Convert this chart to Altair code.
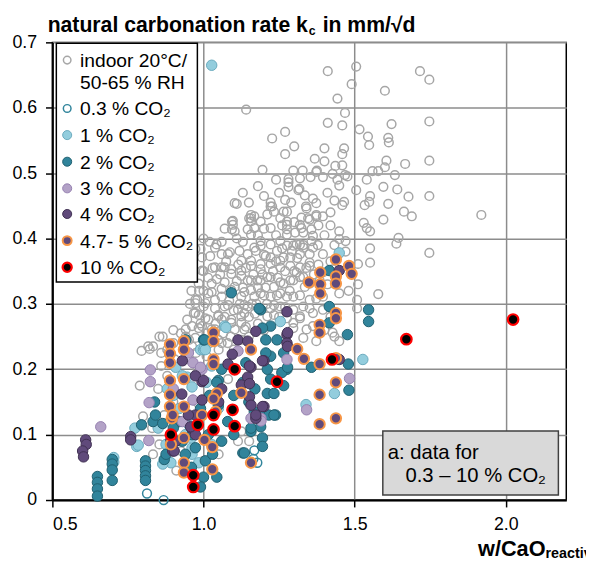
import altair as alt
import pandas as pd

# w/CaO_reactive (x) and carbonation rate k_c in mm/sqrt(d) (y)
indoor = [
    (1.411, 0.656), (1.505, 0.663), (1.490, 0.636), (1.443, 0.614), (1.600, 0.626), (1.716, 0.656),
    (1.747, 0.643), (1.141, 0.597), (1.468, 0.592), (1.411, 0.577), (1.459, 0.573), (1.516, 0.567),
    (1.544, 0.556), (1.548, 0.543), (1.622, 0.575), (1.611, 0.554), (1.613, 0.547), (1.747, 0.579),
    (1.747, 0.519), (1.747, 0.465), (1.919, 0.436), (1.747, 0.378), (1.667, 0.514), (1.605, 0.519),
    (1.600, 0.509), (1.633, 0.497), (1.595, 0.479), (1.641, 0.475), (1.678, 0.464), (1.611, 0.453),
    (1.663, 0.441), (1.689, 0.434), (1.595, 0.429), (1.551, 0.465), (1.548, 0.456), (1.533, 0.451),
    (1.530, 0.424), (1.540, 0.416), (1.551, 0.411), (1.645, 0.401), (1.638, 0.392), (1.551, 0.385),
    (1.505, 0.474), (1.540, 0.490), (1.559, 0.503), (1.578, 0.503), (1.465, 0.456), (1.433, 0.458),
    (1.459, 0.529), (1.465, 0.538), (1.400, 0.538), (1.368, 0.522), (1.400, 0.518), (1.436, 0.511),
    (1.459, 0.512), (1.373, 0.502), (1.427, 0.499), (1.468, 0.497), (1.443, 0.490), (1.449, 0.481),
    (1.395, 0.494), (1.328, 0.504), (1.300, 0.541), (1.270, 0.563), (1.270, 0.529), (1.297, 0.504),
    (1.281, 0.486), (1.314, 0.474), (1.335, 0.466), (1.362, 0.461), (1.373, 0.454), (1.339, 0.449),
    (1.395, 0.434), (1.373, 0.436), (1.324, 0.432), (1.346, 0.431), (1.276, 0.441), (1.276, 0.426),
    (1.276, 0.414), (1.303, 0.409), (1.330, 0.409), (1.362, 0.404), (1.319, 0.391), (1.378, 0.390),
    (1.449, 0.411), (1.449, 0.399), (1.470, 0.396), (1.433, 0.390), (1.292, 0.381), (1.351, 0.376),
    (1.227, 0.553), (1.195, 0.505), (1.281, 0.491), (1.319, 0.492), (1.354, 0.494), (1.375, 0.504),
    (1.476, 0.495), (1.281, 0.479), (1.317, 0.476), (1.110, 0.453), (1.222, 0.455), (1.227, 0.449),
    (1.270, 0.459), (1.168, 0.434), (1.211, 0.437), (1.233, 0.441), (1.151, 0.431), (1.097, 0.427),
    (0.973, 0.384), (0.995, 0.371), (1.038, 0.386), (1.081, 0.376), (1.094, 0.414), (1.094, 0.426),
    (1.103, 0.454), (1.157, 0.436), (1.254, 0.431), (1.157, 0.406), (1.189, 0.389), (1.097, 0.421),
    (1.103, 0.411), (1.157, 0.426), (1.168, 0.416), (1.222, 0.416), (1.276, 0.421), (1.319, 0.421),
    (1.351, 0.429), (0.990, 0.384), (1.087, 0.379), (1.146, 0.376), (1.168, 0.386), (1.189, 0.396),
    (1.222, 0.391), (1.254, 0.396), (1.276, 0.389), (1.308, 0.391), (1.330, 0.386), (1.357, 0.396),
    (1.060, 0.356), (1.092, 0.353), (1.125, 0.351), (1.157, 0.366), (1.189, 0.361), (1.222, 0.371),
    (1.254, 0.366), (1.287, 0.371), (1.319, 0.356), (1.351, 0.363), (1.044, 0.338), (1.070, 0.333),
    (1.103, 0.326), (1.146, 0.336), (1.178, 0.336), (1.211, 0.341), (1.233, 0.326), (1.265, 0.331),
    (1.297, 0.336), (1.330, 0.341), (1.027, 0.318), (1.060, 0.311), (1.125, 0.311), (1.157, 0.321),
    (1.189, 0.316), (1.222, 0.311), (1.254, 0.316), (1.297, 0.311), (0.979, 0.306), (1.000, 0.296),
    (1.038, 0.293), (1.081, 0.298), (1.135, 0.298), (1.233, 0.298), (0.984, 0.283), (1.016, 0.276),
    (1.049, 0.283), (1.092, 0.276), (1.135, 0.286), (1.211, 0.281), (0.962, 0.266), (0.995, 0.266),
    (1.038, 0.261), (1.103, 0.261), (1.125, 0.271), (0.941, 0.250), (0.973, 0.248), (0.865, 0.250),
    (0.817, 0.235), (0.962, 0.235), (1.222, 0.449), (1.265, 0.441), (1.341, 0.446), (1.373, 0.434),
    (1.459, 0.451), (1.157, 0.431), (1.189, 0.426), (1.146, 0.414), (1.276, 0.406), (1.324, 0.416),
    (1.357, 0.414), (1.173, 0.381), (1.119, 0.381), (1.206, 0.373), (1.243, 0.381), (1.265, 0.371),
    (1.297, 0.389), (1.319, 0.376), (1.362, 0.386), (1.395, 0.376), (1.125, 0.366), (1.157, 0.358),
    (1.189, 0.353), (1.222, 0.361), (1.254, 0.356), (1.287, 0.358), (1.308, 0.348), (1.351, 0.358),
    (1.395, 0.348), (1.427, 0.353), (1.043, 0.391), (1.060, 0.376), (1.022, 0.373), (0.995, 0.351),
    (1.038, 0.356), (1.070, 0.356), (1.092, 0.346), (1.125, 0.343), (1.157, 0.336), (1.189, 0.336),
    (1.222, 0.341), (1.254, 0.333), (1.287, 0.336), (1.319, 0.341), (1.351, 0.331), (1.384, 0.336),
    (0.984, 0.331), (1.027, 0.331), (1.060, 0.323), (1.092, 0.321), (1.135, 0.318), (1.168, 0.311),
    (1.200, 0.313), (1.243, 0.313), (1.276, 0.311), (1.319, 0.313), (1.351, 0.306), (1.395, 0.311),
    (0.973, 0.306), (1.006, 0.301), (1.038, 0.306), (1.070, 0.296), (1.114, 0.291), (1.146, 0.296),
    (1.222, 0.293), (1.254, 0.296), (1.297, 0.291), (1.330, 0.296), (0.973, 0.286), (1.006, 0.278),
    (1.049, 0.281), (1.125, 0.281), (1.233, 0.283), (1.276, 0.278), (1.319, 0.281), (1.362, 0.286),
    (0.984, 0.263), (1.027, 0.261), (1.092, 0.271), (1.135, 0.261), (1.297, 0.263), (1.341, 0.261),
    (0.941, 0.261), (0.952, 0.245), (1.049, 0.245), (0.854, 0.250), (0.833, 0.235), (1.125, 0.245),
    (1.330, 0.248), (1.373, 0.243), (1.427, 0.256), (0.795, 0.228), (0.822, 0.231), (0.789, 0.175),
    (0.800, 0.128), (0.946, 0.276), (0.968, 0.286), (0.973, 0.301), (1.016, 0.316), (1.114, 0.090),
    (0.833, 0.070), (0.854, 0.085), (0.925, 0.075), (1.151, 0.090), (1.125, 0.105), (1.060, 0.276),
    (1.081, 0.185), (0.880, 0.190), (0.860, 0.205), (0.900, 0.260), (0.830, 0.110), (0.870, 0.130),
    (0.900, 0.150), (0.850, 0.170), (0.940, 0.120), (0.960, 0.140), (0.980, 0.200), (1.010, 0.220),
    (1.050, 0.230), (1.080, 0.240), (1.100, 0.230), (1.150, 0.250), (1.180, 0.270), (1.200, 0.260),
    (0.880, 0.060), (0.910, 0.045), (1.000, 0.060), (1.050, 0.070), (1.578, 0.315), (1.508, 0.293),
    (1.362, 0.266), (1.433, 0.250), (1.449, 0.243), (1.373, 0.308), (1.508, 0.306), (1.449, 0.316),
    (1.395, 0.291), (1.351, 0.293), (1.319, 0.278), (1.297, 0.271), (1.511, 0.361), (1.551, 0.363),
    (1.511, 0.330), (1.470, 0.380), (1.490, 0.345), (1.420, 0.280), (1.400, 0.260), (1.480, 0.320),
    (1.000, 0.320), (1.015, 0.340), (1.030, 0.355), (1.055, 0.345), (1.075, 0.365), (1.085, 0.305),
    (1.110, 0.335), (1.115, 0.360), (1.130, 0.325), (1.140, 0.355), (1.165, 0.345), (1.175, 0.300),
    (1.180, 0.325), (1.195, 0.345), (1.200, 0.375), (1.210, 0.300), (1.230, 0.350), (1.240, 0.365),
    (1.245, 0.340), (1.260, 0.385), (1.270, 0.350), (1.285, 0.320), (1.300, 0.350), (1.310, 0.370),
    (1.335, 0.326), (1.340, 0.355), (1.365, 0.345), (1.380, 0.360), (1.410, 0.330), (1.420, 0.365),
    (1.000, 0.350), (0.990, 0.270), (1.010, 0.255), (1.040, 0.270), (1.065, 0.255), (1.070, 0.280),
    (1.100, 0.290), (1.120, 0.300), (1.150, 0.280), (1.160, 0.300), (1.190, 0.290), (1.205, 0.325),
    (1.250, 0.280), (1.270, 0.295), (0.955, 0.300), (0.925, 0.255), (0.900, 0.240), (0.950, 0.215),
    (0.975, 0.225), (1.020, 0.240), (1.060, 0.240), (1.090, 0.250), (1.140, 0.265), (1.170, 0.285),
    (1.110, 0.400), (1.130, 0.395), (1.180, 0.405), (1.200, 0.415), (1.240, 0.405), (1.260, 0.420),
    (1.300, 0.425), (1.290, 0.455), (1.250, 0.470), (1.200, 0.465), (1.180, 0.480), (1.150, 0.455),
    (1.130, 0.470), (1.240, 0.490), (1.330, 0.390), (1.380, 0.420), (1.400, 0.405), (1.420, 0.420),
    (1.410, 0.470), (1.420, 0.440), (1.060, 0.395), (1.070, 0.415), (1.020, 0.395), (1.000, 0.400),
    (0.985, 0.320), (0.960, 0.320), (0.880, 0.230), (0.905, 0.215), (0.860, 0.225),
]

co2_03 = [(0.813, 0.010), (0.868, 0.000), (1.168, 0.076), (1.178, 0.057), (1.165, 0.063)]

co2_1 = [
    (1.027, 0.665), (0.703, 0.065), (0.703, 0.058), (0.779, 0.082), (0.773, 0.110), (0.876, 0.085),
    (0.892, 0.057), (0.962, 0.173), (0.946, 0.188), (0.990, 0.230), (1.027, 0.205), (0.962, 0.070),
    (0.984, 0.057), (0.930, 0.190), (1.027, 0.085), (1.049, 0.140), (0.784, 0.084), (0.865, 0.055),
    (0.908, 0.203), (1.000, 0.230), (1.070, 0.266), (1.254, 0.273), (0.962, 0.080), (0.952, 0.115),
    (1.449, 0.378), (1.074, 0.264), (1.003, 0.233), (1.527, 0.215), (1.433, 0.163), (1.339, 0.146),
    (1.006, 0.230), (0.900, 0.160), (0.880, 0.170), (0.920, 0.140), (0.940, 0.100), (0.960, 0.095),
    (1.010, 0.180), (0.850, 0.110),
]

co2_2 = [
    (0.649, 0.036), (0.649, 0.027), (0.649, 0.017), (0.649, 0.006), (0.698, 0.062), (0.698, 0.055),
    (0.698, 0.046), (0.698, 0.030), (0.808, 0.060), (0.808, 0.052), (0.808, 0.045), (0.808, 0.037),
    (0.808, 0.030), (0.795, 0.115), (0.838, 0.150), (0.833, 0.120), (0.865, 0.117), (0.870, 0.062),
    (0.841, 0.130), (0.876, 0.070), (0.962, 0.100), (0.973, 0.080), (1.006, 0.060), (1.000, 0.035),
    (0.990, 0.020), (1.044, 0.035), (1.016, 0.100), (1.049, 0.145), (1.049, 0.183), (1.000, 0.245),
    (1.092, 0.317), (1.189, 0.291), (1.222, 0.266), (1.222, 0.220), (1.222, 0.185), (1.211, 0.163),
    (1.189, 0.130), (1.189, 0.112), (1.157, 0.105), (1.130, 0.072), (1.195, 0.095), (1.195, 0.082),
    (1.238, 0.130), (1.243, 0.245), (1.265, 0.225), (1.276, 0.200), (1.265, 0.175), (1.195, 0.263),
    (1.206, 0.225), (1.211, 0.200), (1.233, 0.163), (1.259, 0.195), (1.357, 0.203), (1.416, 0.296),
    (1.416, 0.271), (1.476, 0.253), (1.479, 0.208), (1.481, 0.168), (1.546, 0.291), (1.546, 0.273),
    (1.168, 0.135), (1.216, 0.130), (1.135, 0.072), (1.157, 0.110), (1.278, 0.203), (1.233, 0.130),
    (1.184, 0.293), (1.206, 0.245), (1.416, 0.351), (1.003, 0.245), (0.941, 0.245), (0.920, 0.120),
    (0.900, 0.110), (0.940, 0.070), (0.960, 0.050), (0.930, 0.090), (1.030, 0.070), (1.060, 0.090),
    (1.080, 0.120), (1.100, 0.160), (1.060, 0.200), (1.130, 0.180), (1.150, 0.150), (1.100, 0.100),
    (1.020, 0.160), (0.990, 0.140), (1.170, 0.170), (1.140, 0.210), (1.044, 0.180),
]

co2_3 = [
    (0.660, 0.112), (0.824, 0.199), (0.824, 0.181), (0.820, 0.149), (0.819, 0.091), (0.965, 0.210),
    (0.965, 0.153), (0.950, 0.225), (0.995, 0.200), (1.114, 0.228), (1.157, 0.125), (1.190, 0.125),
    (1.276, 0.215), (1.341, 0.138), (1.483, 0.186), (0.990, 0.203), (1.190, 0.121), (0.900, 0.170),
    (0.930, 0.120),
]

co2_4 = [
    (0.610, 0.092), (0.612, 0.085), (0.600, 0.075), (0.603, 0.066), (0.759, 0.097), (0.759, 0.092),
    (0.930, 0.213), (0.928, 0.162), (0.995, 0.181), (0.995, 0.153), (0.973, 0.190), (0.960, 0.110),
    (0.973, 0.100), (0.898, 0.075), (0.892, 0.092), (1.000, 0.183), (0.973, 0.130), (0.957, 0.112),
    (0.908, 0.090), (0.903, 0.075), (1.081, 0.208), (1.114, 0.245), (1.146, 0.188), (1.157, 0.203),
    (1.125, 0.176), (1.152, 0.158), (1.157, 0.145), (1.173, 0.258), (1.200, 0.213), (1.200, 0.143),
    (1.173, 0.125), (1.276, 0.288), (1.276, 0.253), (1.276, 0.240), (1.278, 0.235), (1.146, 0.243),
    (1.195, 0.213), (1.152, 0.205), (1.152, 0.178), (1.195, 0.143), (1.173, 0.130), (1.449, 0.215),
    (1.449, 0.351), (1.278, 0.256), (1.060, 0.170), (1.050, 0.150), (0.950, 0.130), (1.095, 0.223),
]

co2_5 = [
    (0.889, 0.238), (0.889, 0.224), (0.889, 0.210), (0.889, 0.183), (0.889, 0.161), (0.889, 0.143),
    (0.895, 0.125), (0.892, 0.085), (0.935, 0.243), (0.935, 0.230), (0.935, 0.185), (0.935, 0.143),
    (0.935, 0.095), (0.935, 0.057), (0.935, 0.042), (0.995, 0.130), (1.003, 0.092), (1.033, 0.256),
    (1.033, 0.243), (1.033, 0.215), (1.033, 0.208), (1.044, 0.163), (1.033, 0.155), (1.029, 0.081),
    (1.029, 0.047), (1.157, 0.230), (1.125, 0.164), (1.157, 0.057), (1.438, 0.368), (1.481, 0.358),
    (1.490, 0.346), (1.386, 0.348), (1.349, 0.333), (1.386, 0.330), (1.438, 0.342), (1.438, 0.331),
    (1.386, 0.316), (1.438, 0.286), (1.438, 0.278), (1.384, 0.268), (1.384, 0.256), (1.310, 0.231),
    (1.332, 0.216), (1.384, 0.208), (1.438, 0.217), (1.438, 0.180), (1.384, 0.161), (1.384, 0.116),
    (1.438, 0.125), (0.898, 0.130), (1.040, 0.135),
]

co2_10 = [
    (0.892, 0.100), (0.966, 0.038), (0.966, 0.020), (0.981, 0.115), (1.033, 0.130), (1.033, 0.108),
    (1.103, 0.200), (1.096, 0.138), (1.103, 0.113), (1.243, 0.181), (1.425, 0.215), (1.671, 0.246),
    (2.024, 0.276),
]

legend_labels = ["indoor 20°C/", "0.3 % CO₂", "1 % CO₂", "2 % CO₂", "3 % CO₂", "4 % CO₂",
                 "4.7- 5 % CO₂", "10 % CO₂"]

FONT = "Liberation Sans"
W, H = 521, 464

# (points, filled, size, fill, stroke, strokeWidth)
styles = [
    (indoor, False, 78, None, "#a6a6a6", 1.5),
    (co2_03, False, 80, None, "#31859c", 1.5),
    (co2_1, True, 112, "#93cddd", "#6aaabd", 1.0),
    (co2_2, True, 112, "#31849b", "#1f5f70", 1.0),
    (co2_3, True, 112, "#b3a2c7", "#9580b0", 1.0),
    (co2_4, True, 112, "#604a7b", "#403152", 1.0),
    (co2_5, True, 110, "#604a7b", "#f79646", 2.0),
    (co2_10, True, 115, "#000000", "#ff0000", 2.2),
]

x_enc = alt.X(
    "w:Q",
    scale=alt.Scale(domain=[0.5, 2.2], nice=False),
    axis=alt.Axis(values=[0.5, 1.0, 1.5, 2.0], format=".1f", title=None),
)
y_enc = alt.Y(
    "k:Q",
    scale=alt.Scale(domain=[0, 0.7], nice=False),
    axis=alt.Axis(
        values=[0, 0.1, 0.2, 0.3, 0.4, 0.5, 0.6, 0.7],
        labelExpr="datum.value == 0 ? '0' : format(datum.value, '.1f')",
        title=None,
    ),
)

layers = []
for pts, filled, size, fill, stroke, sw in styles:
    df = pd.DataFrame(pts, columns=["w", "k"])
    if filled:
        mark = alt.Chart(df).mark_circle(size=size, fill=fill, stroke=stroke, strokeWidth=sw, opacity=1)
    else:
        mark = alt.Chart(df).mark_point(shape="circle", filled=False, size=size, stroke=stroke,
                                        strokeWidth=sw, opacity=1)
    layers.append(mark.encode(x=x_enc, y=y_enc))

one = pd.DataFrame({"n": [0]})


def text(label, x, y, size, bold=False, align="left", baseline="alphabetic"):
    return alt.Chart(pd.DataFrame({"t": [label]})).mark_text(
        font=FONT, fontSize=size, fontWeight="bold" if bold else "normal", color="black",
        align=align, baseline=baseline,
    ).encode(text="t:N", x=alt.value(x), y=alt.value(y))


# legend box
layers.append(
    alt.Chart(one).mark_rect(fill="white", stroke="black", strokeWidth=1.5)
    .encode(x=alt.value(4), x2=alt.value(147), y=alt.value(1), y2=alt.value(243))
)
rows = [18, 67, 94, 121, 148, 174, 201, 228]
for i, (pts, filled, size, fill, stroke, sw) in enumerate(styles):
    yc = rows[i]
    if filled:
        m = alt.Chart(one).mark_circle(size=size * 0.75, fill=fill, stroke=stroke, strokeWidth=sw, opacity=1)
    else:
        m = alt.Chart(one).mark_point(shape="circle", filled=False, size=size * 0.75, stroke=stroke,
                                     strokeWidth=sw, opacity=1)
    layers.append(m.encode(x=alt.value(15), y=alt.value(yc)))
    layers.append(text(legend_labels[i], 28, yc + 7, 19.5))
layers.append(text("50-65 % RH", 28, 47, 19.5))

# annotation box
layers.append(
    alt.Chart(one).mark_rect(fill="#d9d9d9", stroke="#404040", strokeWidth=1.5)
    .encode(x=alt.value(335), x2=alt.value(513), y=alt.value(394), y2=alt.value(459))
)
layers.append(text("a: data for", 340, 422, 20.5))
layers.append(text("0.3 – 10 % CO₂", 358, 446, 20.5))

# chart title with subscript
layers.append(text("natural carbonation rate k", 259, -11, 21.5, bold=True, align="right"))
layers.append(text("c", 260, -7, 12.5, bold=True))
layers.append(text("in mm/√d", 274, -11, 21.5, bold=True))

# x axis title with subscript
layers.append(text("w/CaO", 500, 521, 22, bold=True, align="right"))
layers.append(text("reactive", 500, 523, 14.5, bold=True))

chart = (
    alt.layer(*layers)
    .properties(
        width=W,
        height=H,
        autosize=alt.AutoSizeParams(type="none"),
        padding={"left": 45, "top": 31, "right": 20, "bottom": 60},
    )
    .configure_view(stroke="black", strokeWidth=1.5)
    .configure_axis(
        labelFont=FONT,
        labelFontSize=18,
        labelColor="black",
        domainColor="black",
        domainWidth=2,
        tickColor="black",
        tickWidth=1.5,
        tickSize=7,
        gridColor="#8c8c8c",
        gridWidth=1.5,
    )
    .configure_axisY(labelPadding=9)
    .configure_axisX(labelPadding=9)
)

chart.save("out.html", embed_options={"renderer": "svg", "actions": False})
